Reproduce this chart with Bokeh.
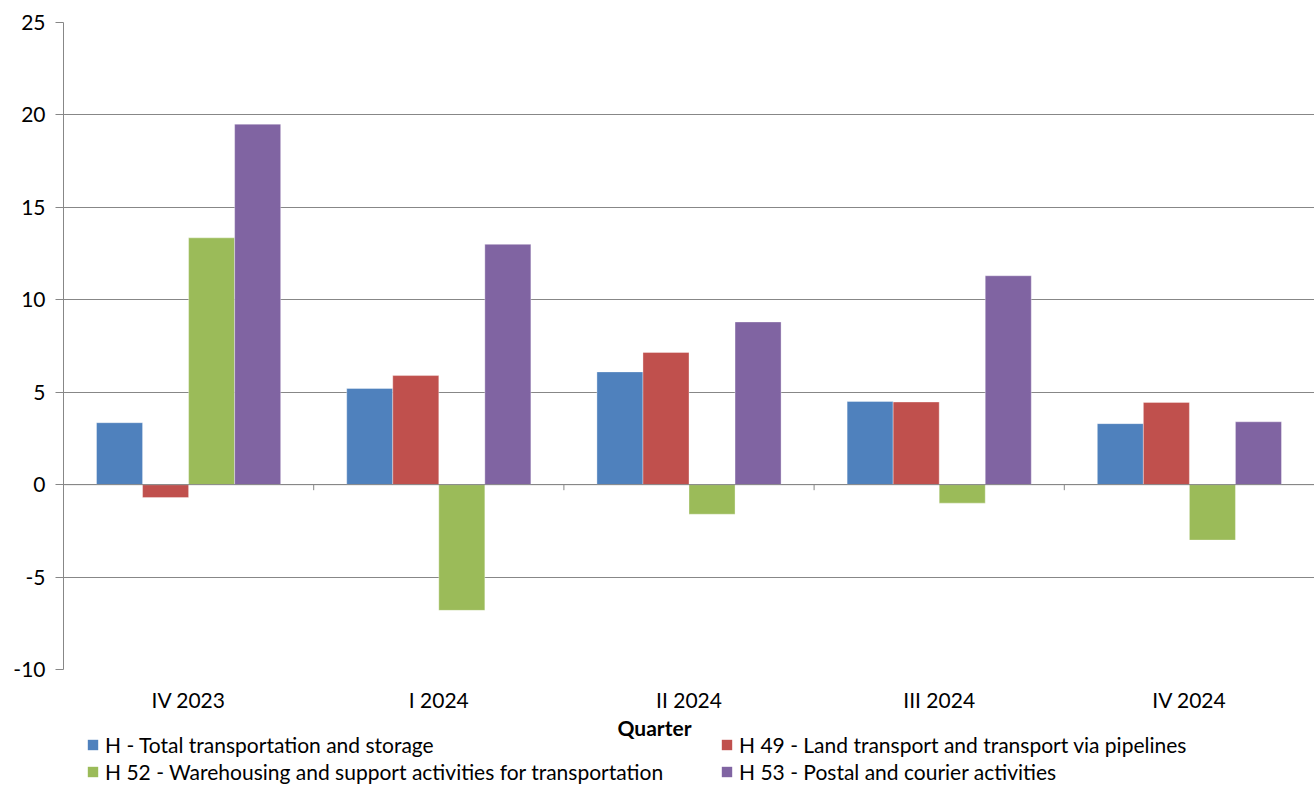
from bokeh.plotting import figure
from bokeh.layouts import column
from bokeh.models import Range1d, FixedTicker, Legend, LegendItem, Span, ColumnDataSource, Label
from bokeh.embed import file_html
from bokeh.resources import INLINE

quarters = ["IV 2023", "I 2024", "II 2024", "III 2024", "IV 2024"]
series_names = [
    "H - Total transportation and storage",
    "H 49 - Land transport and transport via pipelines",
    "H 52 - Warehousing and support activities for transportation",
    "H 53 - Postal and courier activities",
]
h_total = [3.35, 5.2, 6.1, 4.5, 3.3]
h49 = [-0.7, 5.9, 7.15, 4.47, 4.45]
h52 = [13.35, -6.8, -1.6, -1.0, -3.0]
h53 = [19.5, 13.0, 8.8, 11.3, 3.4]
series_values = [h_total, h49, h52, h53]
colors = ["#4F81BD", "#C0504D", "#9BBB59", "#8064A2"]
y_ticks = [-10, -5, 0, 5, 10, 15, 20, 25]
x_title = "Quarter"

FONT = "Lato"
GRID = "#878787"

# ---------------- main chart ----------------
p = figure(output_backend="svg", toolbar_location=None,
           frame_width=1251, frame_height=647,
           x_range=Range1d(-0.5, len(quarters) - 0.5), y_range=Range1d(-10, 25),
           min_border_left=63, min_border_top=22, min_border_right=0, min_border_bottom=0)
p.outline_line_color = None
p.background_fill_color = "white"
p.border_fill_color = "white"

bar_w = 0.184
xs = list(range(len(quarters)))
for k, (vals, col) in enumerate(zip(series_values, colors)):
    off = (k - 1.5) * bar_w
    src = ColumnDataSource(dict(x=[x + off for x in xs], top=vals))
    p.vbar(x="x", top="top", bottom=0, width=bar_w, source=src,
           fill_color=col, line_color="white", line_alpha=0.35, line_width=1)

p.yaxis.ticker = FixedTicker(ticks=y_ticks)
p.yaxis.major_label_overrides = {t: str(t) for t in y_ticks}
p.yaxis.axis_line_color = GRID
p.yaxis.major_tick_line_color = GRID
p.yaxis.major_tick_out = 8
p.yaxis.major_tick_in = 0
p.yaxis.minor_tick_line_color = None
p.yaxis.major_label_text_font = FONT
p.yaxis.major_label_text_font_size = "21px"
p.yaxis.major_label_text_color = "black"
p.yaxis.major_label_standoff = 10
p.ygrid.ticker = FixedTicker(ticks=y_ticks)
p.ygrid.grid_line_color = GRID
p.xgrid.grid_line_color = None

p.xaxis.ticker = FixedTicker(ticks=xs)
p.xaxis.major_label_overrides = {i: q for i, q in enumerate(quarters)}
p.xaxis.axis_line_color = None
p.xaxis.major_tick_line_color = None
p.xaxis.major_tick_out = 0
p.xaxis.major_tick_in = 0
p.xaxis.minor_tick_line_color = None
p.xaxis.minor_tick_out = 0
p.xaxis.major_label_text_font = FONT
p.xaxis.major_label_text_font_size = "21px"
p.xaxis.major_label_text_color = "black"
p.xaxis.major_label_standoff = 17

# zero axis line with category boundary ticks
p.add_layout(Span(location=0, dimension="width", line_color=GRID, line_width=1))
bounds = [i + 0.5 for i in xs[:-1]]
p.segment(x0=bounds, x1=bounds, y0=[0] * len(bounds), y1=[-0.3] * len(bounds),
          line_color=GRID, line_width=1)

# ---------------- axis title + legend strip ----------------
lg = figure(width=1314, height=70, output_backend="svg", toolbar_location=None,
            x_axis_type=None, y_axis_type=None,
            x_range=Range1d(0, 1), y_range=Range1d(0, 1),
            min_border_left=0, min_border_right=0, min_border_top=0, min_border_bottom=0)
lg.outline_line_color = None
lg.xgrid.grid_line_color = None
lg.ygrid.grid_line_color = None
lg.border_fill_color = "white"
key_renderers = [lg.vbar(x=xs, top=vals, width=bar_w, fill_color=c, line_color=None, visible=False)
                 for vals, c in zip(series_values, colors)]

lg.add_layout(Label(x=591, y=57, x_units="screen", y_units="screen", text=x_title,
                    text_font=FONT, text_font_size="21px", text_font_style="bold",
                    text_color="black", text_align="center", text_baseline="middle"))

legend = Legend(items=[LegendItem(label=n, renderers=[r]) for n, r in zip(series_names, key_renderers)],
                orientation="horizontal", ncols=2, location=(23, 0),
                label_text_font=FONT, label_text_font_size="21px", label_text_color="black",
                glyph_width=13, glyph_height=13, label_standoff=6, spacing=2,
                padding=0, margin=0, border_line_color=None, background_fill_alpha=0,
                label_height=22, label_width=613)
lg.add_layout(legend, "center")

layout = column(p, lg, spacing=0)
open("out.html", "w").write(file_html(layout, INLINE))
